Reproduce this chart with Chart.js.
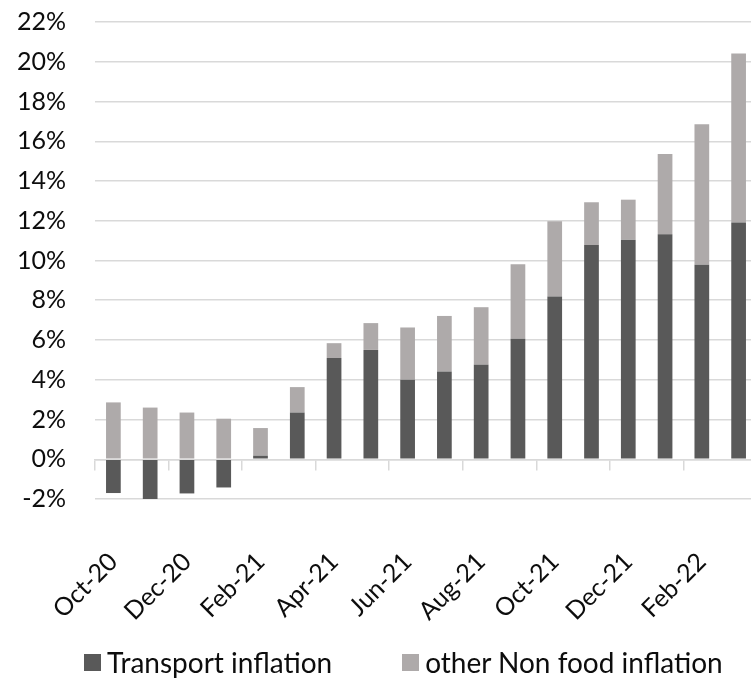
<!DOCTYPE html>
<html>
<head>
<meta charset="utf-8">
<script src="https://cdn.jsdelivr.net/npm/chart.js@4.4.1/dist/chart.umd.min.js"></script>
<style>
  html, body { margin: 0; padding: 0; background: #fff; overflow: hidden; width: 751px; height: 680px; }
  #wrap { position: relative; width: 751px; height: 680px; overflow: hidden; }
  #chart { position: absolute; left: 0; top: 0; }
  #legend { position: absolute; left: 84px; top: 645px; display: flex; align-items: center;
            font-family: Lato, "Noto Sans", sans-serif; font-size: 28px; color: #0d0d0d; white-space: nowrap; }
  .item { display: flex; align-items: center; margin-right: 70px; }
  .swatch { width: 17px; height: 17px; margin-right: 6px; }
</style>
</head>
<body>
<div id="wrap">
  <canvas id="chart" width="757" height="680"></canvas>
  <div id="legend"></div>
</div>
<script>
// Monthly months, Oct-20 .. Mar-22
const months = ['Oct-20','Nov-20','Dec-20','Jan-21','Feb-21','Mar-21','Apr-21','May-21','Jun-21',
                'Jul-21','Aug-21','Sep-21','Oct-21','Nov-21','Dec-21','Jan-22','Feb-22','Mar-22'];

// Contributions, percentage points
const transportInflation = [-1.70, -2.04, -1.72, -1.42, 0.18, 2.35, 5.09, 5.50, 4.00,
                            4.42, 4.75, 6.06, 8.19, 10.78, 11.05, 11.32, 9.78, 11.91];
const otherNonFoodInflation = [2.86, 2.60, 2.35, 2.04, 1.39, 1.28, 0.75, 1.35, 2.63,
                               2.79, 2.90, 3.75, 3.79, 2.15, 2.01, 4.04, 7.07, 8.51];

const seriesNames = ['Transport inflation', 'other Non food inflation'];
const seriesColors = ['#595959', '#aeaaaa'];

const yMin = -2, yMax = 22, yStep = 2;

const gridColor = '#d9d9d9';
const textColor = '#0d0d0d';
const fontFamily = 'Lato, "Noto Sans", sans-serif';

Chart.defaults.font.family = fontFamily;
Chart.defaults.color = textColor;

const chart = new Chart(document.getElementById('chart'), {
  type: 'bar',
  data: {
    labels: months,
    datasets: [
      { label: seriesNames[0], data: transportInflation, backgroundColor: seriesColors[0],
        stack: 'total', xAxisID: 'x', barPercentage: 0.4, categoryPercentage: 1.0 },
      { label: seriesNames[1], data: otherNonFoodInflation, backgroundColor: seriesColors[1],
        stack: 'total', xAxisID: 'x', barPercentage: 0.4, categoryPercentage: 1.0 }
    ]
  },
  options: {
    responsive: false,
    animation: false,
    devicePixelRatio: 1,
    layout: { padding: { top: 0, left: 0, right: 0, bottom: 0 } },
    plugins: { legend: { display: false }, tooltip: { enabled: false } },
    scales: {
      // category axis sitting on the zero line: only its tick marks show
      x: {
        type: 'category',
        stacked: true,
        position: { y: 0 },
        offset: true,
        grid: {
          offset: true,
          drawOnChartArea: false,
          drawTicks: true,
          tickLength: 10,
          lineWidth: 1.5,
          color: (ctx) => (ctx.index % 2 === 0 ? gridColor : 'rgba(0,0,0,0)')
        },
        border: { display: true, color: gridColor, width: 1.5 },
        ticks: { display: false, autoSkip: false },
        afterFit: (scale) => { scale.paddingLeft = 0; scale.paddingRight = 0; }
      },
      // month labels along the bottom
      x2: {
        type: 'category',
        position: 'bottom',
        offset: true,
        grid: { display: false, drawTicks: false },
        border: { display: false },
        ticks: {
          autoSkip: false,
          minRotation: 45,
          maxRotation: 45,
          padding: 48,
          font: { size: 25 },
          color: textColor,
          callback: function (value, index) { return index % 2 === 0 ? this.getLabelForValue(value) : ''; }
        },
        afterFit: (scale) => { scale.height = 181; scale.paddingLeft = 0; scale.paddingRight = 0; }
      },
      y: {
        stacked: true,
        min: yMin,
        max: yMax,
        grid: { color: gridColor, lineWidth: 1.5, drawTicks: false },
        border: { display: false },
        ticks: {
          stepSize: yStep,
          padding: 29,
          font: { size: 25 },
          color: textColor,
          callback: (v) => v + '%'
        },
        afterFit: (scale) => { scale.width = 95; scale.paddingTop = 22; scale.paddingBottom = 0; }
      }
    }
  }
});

// Legend built from the chart's datasets
const legendEl = document.getElementById('legend');
chart.data.datasets.forEach((ds) => {
  const item = document.createElement('div');
  item.className = 'item';
  const sw = document.createElement('span');
  sw.className = 'swatch';
  sw.style.background = ds.backgroundColor;
  const txt = document.createElement('span');
  txt.textContent = ds.label;
  item.appendChild(sw);
  item.appendChild(txt);
  legendEl.appendChild(item);
});
</script>
</body>
</html>
